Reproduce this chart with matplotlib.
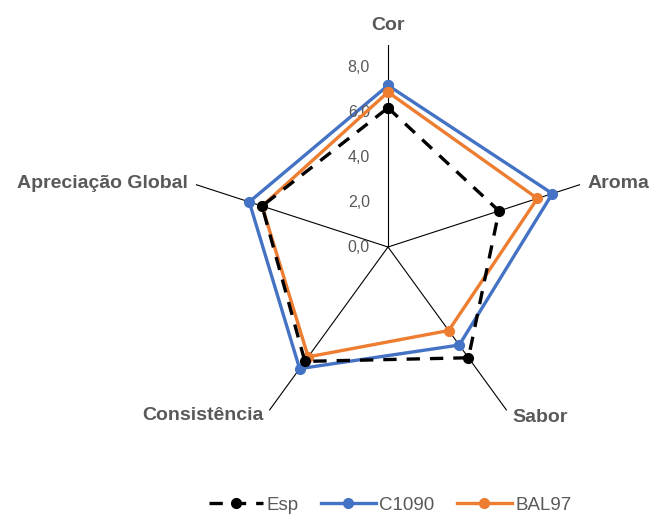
import numpy as np
import matplotlib
matplotlib.use("Agg")
import matplotlib.pyplot as plt

plt.rcParams['font.family'] = ['Liberation Sans', 'DejaVu Sans']

# Dados
categorias = ["Cor", "Aroma", "Sabor", "Consistência", "Apreciação Global"]
esp = [6.2, 5.2, 6.1, 6.3, 5.9]
c1090 = [7.2, 7.7, 5.4, 6.7, 6.5]
bal97 = [6.9, 7.0, 4.6, 6.05, 5.9]
ticks_r = [0, 2, 4, 6, 8]

W, H = 653, 515
fig = plt.figure(figsize=(W / 100, H / 100), dpi=100)
# centro em (388, 247) px, raio 202 px
ax = fig.add_axes([186 / W, 1 - (247 + 202) / H, 404 / W, 404 / H], projection='polar')
ax.set_theta_offset(np.pi / 2)
ax.set_theta_direction(-1)
ax.set_ylim(0, 9)

ang = np.linspace(0, 2 * np.pi, len(categorias), endpoint=False)
ang_c = np.append(ang, ang[0])

def fechar(v):
    return np.append(v, v[0])

ax.plot(ang_c, fechar(c1090), color='#4472C4', lw=2.4, marker='o', ms=7, label='C1090', zorder=3)
ax.plot(ang_c, fechar(bal97), color='#ED7D31', lw=2.4, marker='o', ms=7, label='BAL97', zorder=4)
ax.plot(ang_c, fechar(esp), color='black', lw=2.4, ls=(0, (4, 3)), marker='o', ms=7, label='Esp', zorder=5)

# raios (eixos)
ax.set_xticks(ang)
ax.set_xticklabels([])
ax.xaxis.grid(True, color='black', lw=0.8)
ax.yaxis.grid(False)
ax.set_yticks([])
ax.spines['polar'].set_visible(False)

# rótulos do eixo radial
for v in ticks_r:
    ax.annotate(f"{v:.1f}".replace('.', ','), xy=(0, v), xytext=(-18, 0),
                textcoords='offset pixels', ha='right', va='center',
                color='#595959', fontsize=11.5)

# rótulos das categorias (posições em pixels da figura)
pos = {
    "Cor": (388, 25, 'center'),
    "Aroma": (588, 183, 'left'),
    "Sabor": (540, 417, 'center'),
    "Consistência": (203, 416, 'center'),
    "Apreciação Global": (188, 183, 'right'),
}
for c in categorias:
    x, y, ha = pos[c]
    fig.text(x / W, 1 - y / H, c, ha=ha, va='center', fontsize=14,
             fontweight='bold', color='#595959')

handles, labels = ax.get_legend_handles_labels()
ordem = [2, 0, 1]
fig.legend([handles[i] for i in ordem], [labels[i] for i in ordem],
           loc='center', bbox_to_anchor=(390 / W, 1 - 505 / H), ncol=3,
           frameon=False, fontsize=13.5, labelcolor='#595959',
           handlelength=2.9, columnspacing=1.2, handletextpad=0.2)

fig.savefig("out.png", dpi=100)
